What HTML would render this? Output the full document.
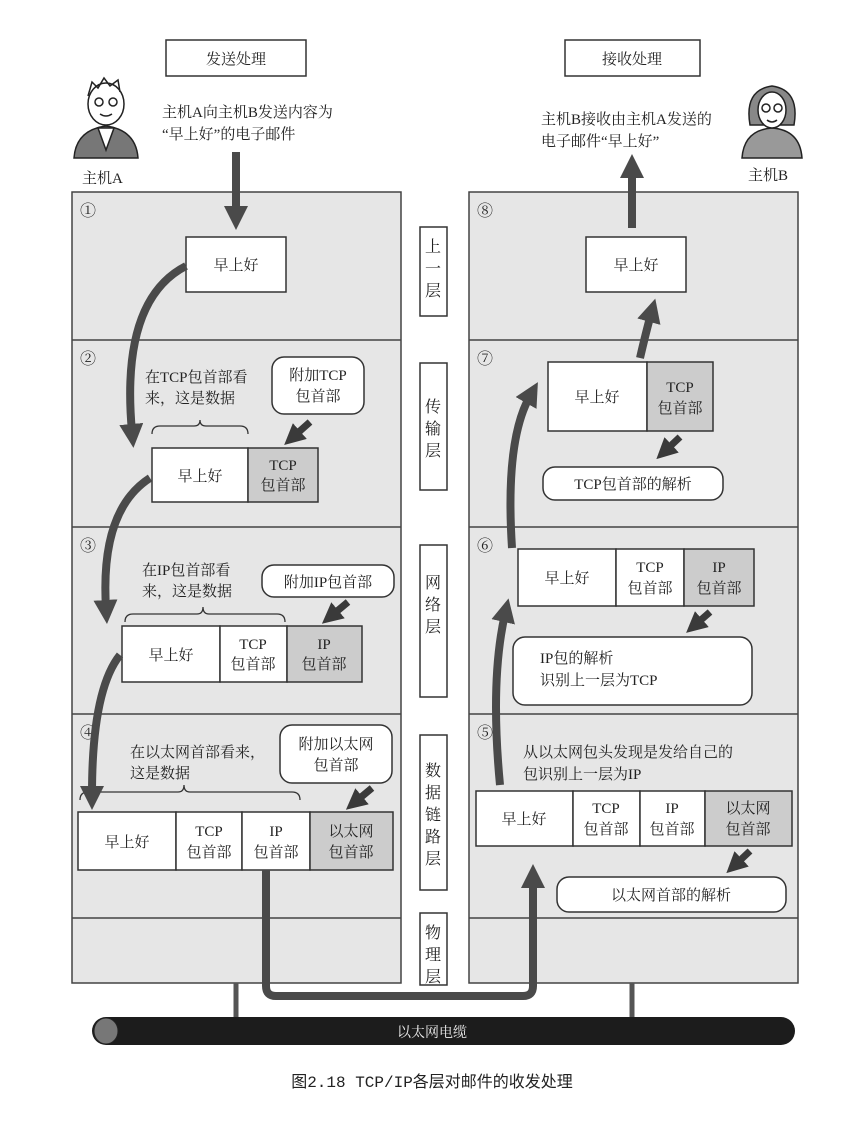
<!DOCTYPE html>
<html><head><meta charset="utf-8"><style>
body{margin:0;background:#fff;}
svg{display:block;font-family:"Liberation Serif","Noto Serif CJK SC","Noto Sans CJK SC",serif;}
</style></head><body>
<svg width="865" height="1125" viewBox="0 0 865 1125" xmlns="http://www.w3.org/2000/svg">
<defs>
<marker id="ah" markerWidth="3" markerHeight="3" refX="1" refY="1.5" orient="auto" markerUnits="strokeWidth">
<path d="M0,0 L3,1.5 L0,3 z" fill="#4a4a4a"/></marker>
<marker id="sh" markerWidth="3" markerHeight="3" refX="1.5" refY="1.5" orient="auto" markerUnits="strokeWidth">
<path d="M0,0 L3,1.5 L0,3 z" fill="#3a3a3a"/></marker>
</defs>
<g font-size="15" fill="#222">
<rect x="166" y="40" width="140" height="36" fill="#fff" stroke="#333" stroke-width="1.5"/>
<text x="236" y="64" text-anchor="middle">发送处理</text>
<rect x="565" y="40" width="135" height="36" fill="#fff" stroke="#333" stroke-width="1.5"/>
<text x="632" y="64" text-anchor="middle">接收处理</text>
<text x="162" y="117">主机A向主机B发送内容为</text>
<text x="162" y="139">“早上好”的电子邮件</text>
<text x="541" y="124">主机B接收由主机A发送的</text>
<text x="541" y="146">电子邮件“早上好”</text>
<text x="82" y="183">主机A</text>
<text x="748" y="180">主机B</text>
<g stroke="#222" stroke-width="1.5">
<path d="M74,158 Q76,130 106,126 Q136,130 138,158 Z" fill="#777"/>
<path d="M98,128 L106,150 L114,128 Z" fill="#fff"/>
<ellipse cx="106" cy="104" rx="18" ry="21" fill="#fff"/>
<path d="M88,96 L92,82 L98,88 L104,78 L110,86 L118,80 L120,92" fill="none"/>
<circle cx="99" cy="102" r="4" fill="#fff"/><circle cx="113" cy="102" r="4" fill="#fff"/>
<path d="M100,114 Q106,118 112,114" fill="none"/>
</g>
<g stroke="#222" stroke-width="1.5">
<path d="M742,158 Q744,130 772,128 Q800,130 802,158 Z" fill="#999"/>
<path d="M750,125 Q744,90 772,86 Q800,90 794,125 Z" fill="#888"/>
<ellipse cx="772" cy="110" rx="14" ry="18" fill="#fff"/>
<circle cx="766" cy="108" r="4" fill="#fff"/><circle cx="778" cy="108" r="4" fill="#fff"/>
<path d="M767,120 Q772,124 777,120" fill="none"/>
</g>
<g fill="#e6e6e6" stroke="#444" stroke-width="1.5">
<rect x="72" y="192" width="329" height="791"/>
<rect x="469" y="192" width="329" height="791"/>
</g>
<g stroke="#444" stroke-width="1.5">
<line x1="72" y1="340" x2="401" y2="340"/><line x1="72" y1="527" x2="401" y2="527"/>
<line x1="72" y1="714" x2="401" y2="714"/><line x1="72" y1="918" x2="401" y2="918"/>
<line x1="469" y1="340" x2="798" y2="340"/><line x1="469" y1="527" x2="798" y2="527"/>
<line x1="469" y1="714" x2="798" y2="714"/><line x1="469" y1="918" x2="798" y2="918"/>
</g>
<g font-size="16"><text x="80" y="216">①</text><text x="80" y="364">②</text><text x="80" y="551">③</text><text x="80" y="738">④</text>
<text x="477" y="216">⑧</text><text x="477" y="364">⑦</text><text x="477" y="551">⑥</text><text x="477" y="738">⑤</text></g>
<g fill="#fff" stroke="#333" stroke-width="1.5">
<rect x="420" y="227" width="27" height="89"/><rect x="420" y="363" width="27" height="127"/>
<rect x="420" y="545" width="27" height="152"/><rect x="420" y="735" width="27" height="155"/>
<rect x="420" y="913" width="27" height="72"/>
</g>
<g text-anchor="middle" font-size="16">
<text x="433" y="252">上</text><text x="433" y="274">一</text><text x="433" y="296">层</text>
<text x="433" y="412">传</text><text x="433" y="434">输</text><text x="433" y="456">层</text>
<text x="433" y="588">网</text><text x="433" y="610">络</text><text x="433" y="632">层</text>
<text x="433" y="776">数</text><text x="433" y="798">据</text><text x="433" y="820">链</text><text x="433" y="842">路</text><text x="433" y="864">层</text>
<text x="433" y="938">物</text><text x="433" y="960">理</text><text x="433" y="982">层</text>
</g>
<g stroke="#333" stroke-width="1.5">
<rect x="186" y="237" width="100" height="55" fill="#fff"/>
<rect x="152" y="448" width="96" height="54" fill="#fff"/><rect x="248" y="448" width="70" height="54" fill="#ccc"/>
<rect x="122" y="626" width="98" height="56" fill="#fff"/><rect x="220" y="626" width="67" height="56" fill="#fff"/><rect x="287" y="626" width="75" height="56" fill="#ccc"/>
<rect x="78" y="812" width="98" height="58" fill="#fff"/><rect x="176" y="812" width="66" height="58" fill="#fff"/><rect x="242" y="812" width="68" height="58" fill="#fff"/><rect x="310" y="812" width="83" height="58" fill="#ccc"/>
<rect x="586" y="237" width="100" height="55" fill="#fff"/>
<rect x="548" y="362" width="99" height="69" fill="#fff"/><rect x="647" y="362" width="66" height="69" fill="#ccc"/>
<rect x="518" y="549" width="98" height="57" fill="#fff"/><rect x="616" y="549" width="68" height="57" fill="#fff"/><rect x="684" y="549" width="70" height="57" fill="#ccc"/>
<rect x="476" y="791" width="97" height="55" fill="#fff"/><rect x="573" y="791" width="67" height="55" fill="#fff"/><rect x="640" y="791" width="65" height="55" fill="#fff"/><rect x="705" y="791" width="87" height="55" fill="#ccc"/>
<rect x="272" y="357" width="92" height="57" rx="12" fill="#fff"/>
<rect x="262" y="565" width="132" height="32" rx="12" fill="#fff"/>
<rect x="280" y="725" width="112" height="58" rx="12" fill="#fff"/>
<rect x="543" y="467" width="180" height="33" rx="12" fill="#fff"/>
<rect x="513" y="637" width="239" height="68" rx="12" fill="#fff"/>
<rect x="557" y="877" width="229" height="35" rx="12" fill="#fff"/>
</g>
<g text-anchor="middle">
<text x="236" y="270">早上好</text><text x="636" y="270">早上好</text>
<text x="200" y="481">早上好</text><text x="283" y="470">TCP</text><text x="283" y="490">包首部</text>
<text x="171" y="660">早上好</text><text x="253" y="649">TCP</text><text x="253" y="669">包首部</text><text x="324" y="649">IP</text><text x="324" y="669">包首部</text>
<text x="127" y="847">早上好</text><text x="209" y="836">TCP</text><text x="209" y="857">包首部</text><text x="276" y="836">IP</text><text x="276" y="857">包首部</text><text x="351" y="836">以太网</text><text x="351" y="857">包首部</text>
<text x="597" y="402">早上好</text><text x="680" y="392">TCP</text><text x="680" y="413">包首部</text>
<text x="567" y="583">早上好</text><text x="650" y="572">TCP</text><text x="650" y="593">包首部</text><text x="719" y="572">IP</text><text x="719" y="593">包首部</text>
<text x="524" y="824">早上好</text><text x="606" y="813">TCP</text><text x="606" y="834">包首部</text><text x="672" y="813">IP</text><text x="672" y="834">包首部</text><text x="748" y="813">以太网</text><text x="748" y="834">包首部</text>
<text x="318" y="380">附加TCP</text><text x="318" y="401">包首部</text>
<text x="328" y="587">附加IP包首部</text>
<text x="336" y="749">附加以太网</text><text x="336" y="770">包首部</text>
<text x="633" y="489">TCP包首部的解析</text>
<text x="671" y="900">以太网首部的解析</text>
</g>
<text x="540" y="663">IP包的解析</text><text x="540" y="685">识别上一层为TCP</text>
<text x="145" y="382">在TCP包首部看</text><text x="145" y="403">来，这是数据</text>
<text x="142" y="575">在IP包首部看</text><text x="142" y="596">来，这是数据</text>
<text x="130" y="757">在以太网首部看来，</text><text x="130" y="778">这是数据</text>
<text x="523" y="757">从以太网包头发现是发给自己的</text><text x="523" y="779">包识别上一层为IP</text>
<g fill="none" stroke="#333" stroke-width="1.3">
<path d="M152,434 Q152,426 160,426 L194,426 Q200,426 200,420 Q200,426 206,426 L240,426 Q248,426 248,434"/>
<path d="M125,622 Q125,614 133,614 L197,614 Q203,614 203,607 Q203,614 209,614 L277,614 Q285,614 285,622"/>
<path d="M80,800 Q80,792 88,792 L178,792 Q184,792 184,785 Q184,792 190,792 L292,792 Q300,792 300,800"/>
</g>
<g fill="none" stroke="#4a4a4a" stroke-width="8">
<line x1="236" y1="152" x2="236" y2="214" marker-end="url(#ah)"/>
<line x1="632" y1="228" x2="632" y2="170" marker-end="url(#ah)"/>
<path d="M186,266 Q120,300 132,432" marker-end="url(#ah)"/>
<path d="M150,478 Q100,510 106,608" marker-end="url(#ah)"/>
<path d="M120,655 Q92,690 92,794" marker-end="url(#ah)"/>
<path d="M266,870 L266,986 Q266,996 276,996 L523,996 Q533,996 533,986 L533,880" marker-end="url(#ah)"/>
<path d="M500,785 Q490,680 505,614" marker-end="url(#ah)"/>
<path d="M512,548 Q505,440 530,396" marker-end="url(#ah)"/>
<path d="M640,358 Q646,332 651,314" marker-end="url(#ah)"/>
</g>
<g fill="none" stroke="#3a3a3a" stroke-width="7">
<line x1="310" y1="422" x2="292" y2="438" marker-end="url(#sh)"/>
<line x1="348" y1="602" x2="330" y2="617" marker-end="url(#sh)"/>
<line x1="372" y1="788" x2="354" y2="803" marker-end="url(#sh)"/>
<line x1="680" y1="437" x2="664" y2="452" marker-end="url(#sh)"/>
<line x1="710" y1="612" x2="694" y2="626" marker-end="url(#sh)"/>
<line x1="750" y1="851" x2="734" y2="866" marker-end="url(#sh)"/>
</g>
<g stroke="#555" stroke-width="5"><line x1="236" y1="983" x2="236" y2="1018"/><line x1="632" y1="983" x2="632" y2="1018"/></g>
<rect x="92" y="1017" width="703" height="28" rx="14" fill="#1c1c1c"/>
<ellipse cx="106" cy="1031" rx="12" ry="13" fill="#777" stroke="#222"/>
<text x="432" y="1037" text-anchor="middle" fill="#eee" font-size="14">以太网电缆</text>
<text x="432" y="1087" text-anchor="middle" font-size="16" font-family="Liberation Mono,'Noto Sans CJK SC',monospace">图2.18  TCP/IP各层对邮件的收发处理</text>
</g>
</svg>
</body></html>
